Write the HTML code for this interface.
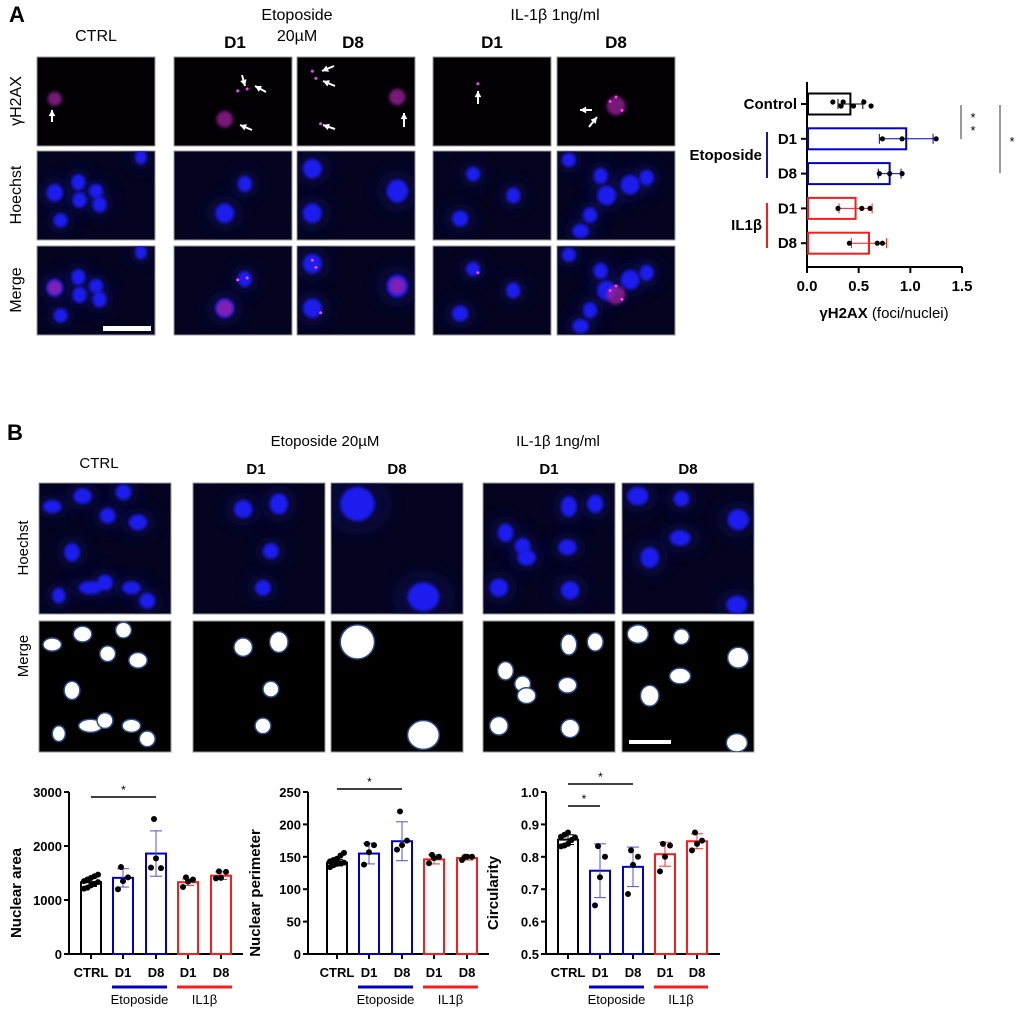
<!DOCTYPE html>
<html><head><meta charset="utf-8">
<style>
html,body{margin:0;padding:0;background:#fff;}
body{width:1020px;height:1011px;position:relative;overflow:hidden;font-family:"Liberation Sans",sans-serif;}
svg{position:absolute;left:0;top:0;}
text{font-family:"Liberation Sans",sans-serif;}
</style></head>
<body>
<svg id="fig" width="1020" height="1011" viewBox="0 0 1020 1011">
<defs>
<filter id="blur2" x="-50%" y="-50%" width="200%" height="200%"><feGaussianBlur stdDeviation="1.6"/></filter>
<filter id="blur6" x="-50%" y="-50%" width="200%" height="200%"><feGaussianBlur stdDeviation="7"/></filter>
</defs>
<g id="labels">
<text x="9" y="22" font-size="22" font-weight="bold">A</text>
<text x="96" y="41" font-size="16" text-anchor="middle">CTRL</text>
<text x="297" y="20" font-size="16" text-anchor="middle">Etoposide</text>
<text x="297" y="41" font-size="16" text-anchor="middle">20µM</text>
<text x="235" y="48" font-size="17" font-weight="bold" text-anchor="middle">D1</text>
<text x="353" y="48" font-size="17" font-weight="bold" text-anchor="middle">D8</text>
<text x="555" y="20" font-size="16" text-anchor="middle">IL-1β 1ng/ml</text>
<text x="492" y="48" font-size="17" font-weight="bold" text-anchor="middle">D1</text>
<text x="616" y="48" font-size="17" font-weight="bold" text-anchor="middle">D8</text>
<text transform="translate(21,101) rotate(-90)" font-size="16" text-anchor="middle">γH2AX</text>
<text transform="translate(21,195) rotate(-90)" font-size="16" text-anchor="middle">Hoechst</text>
<text transform="translate(21,290) rotate(-90)" font-size="16" text-anchor="middle">Merge</text>

<text x="7" y="440" font-size="22" font-weight="bold">B</text>
<text x="99" y="468" font-size="15" text-anchor="middle">CTRL</text>
<text x="325" y="446" font-size="15" text-anchor="middle">Etoposide 20µM</text>
<text x="256" y="474" font-size="15" font-weight="bold" text-anchor="middle">D1</text>
<text x="397" y="474" font-size="15" font-weight="bold" text-anchor="middle">D8</text>
<text x="558" y="446" font-size="15" text-anchor="middle">IL-1β 1ng/ml</text>
<text x="549" y="474" font-size="15" font-weight="bold" text-anchor="middle">D1</text>
<text x="688" y="474" font-size="15" font-weight="bold" text-anchor="middle">D8</text>
<text transform="translate(28,548) rotate(-90)" font-size="15" text-anchor="middle">Hoechst</text>
<text transform="translate(28,656) rotate(-90)" font-size="15" text-anchor="middle">Merge</text>
</g>
<g id="tiles"></g>
<g id="chartA"></g>
<g id="chartB1"></g>
<g id="chartB2"></g>
<g id="chartB3"></g>
</svg>
<script>
// ---------- chart A data ----------
const aCategories = ["Control","D1","D8","D1","D8"];
const aMeans = [0.42,0.96,0.80,0.47,0.60];
const aErr = [0.12,0.26,0.11,0.16,0.17];
const aPoints = [[0.25,0.33,0.35,0.45,0.55,0.62],[0.73,0.92,1.25],[0.70,0.80,0.92],[0.30,0.53,0.61],[0.41,0.68,0.73]];
const aTicks = [0.0,0.5,1.0,1.5];
// ---------- chart B data ----------
const bCategories = ["CTRL","D1","D8","D1","D8"];
const areaMeans = [1330,1410,1860,1330,1450];
const areaErr = [80,170,420,60,70];
const areaPoints = [[1210,1230,1270,1300,1330,1350,1380,1410,1440,1470],[1200,1350,1420,1610],[1600,1770,1590,2500],[1240,1340,1380,1420],[1400,1410,1520,1530]];
const areaTicks = [0,1000,2000,3000];
const perimMeans = [141,155,174,146,148];
const perimErr = [5,16,30,7,3];
const perimPoints = [[134,137,139,140,141,143,145,147,152,156],[138,157,168,170],[161,168,175,220],[140,148,150,153],[145,150,150,150]];
const perimTicks = [0,50,100,150,200,250];
const circMeans = [0.853,0.757,0.769,0.808,0.848];
const circErr = [0.015,0.083,0.061,0.037,0.023];
const circPoints = [[0.832,0.835,0.84,0.852,0.86,0.862,0.868,0.875],[0.65,0.737,0.80,0.833],[0.685,0.775,0.80,0.82],[0.755,0.80,0.835,0.84],[0.82,0.84,0.85,0.875]];
const circTicks = ["0.5","0.6","0.7","0.8","0.9","1.0"];
const colors = ["#000","#0000c8","#0000c8","#ff1a1a","#ff1a1a"];

const NS="http://www.w3.org/2000/svg";
function mk(parent,tag,attrs,txt){const e=document.createElementNS(NS,tag);for(const k in attrs)e.setAttribute(k,attrs[k]);if(txt!==undefined)e.textContent=txt;parent.appendChild(e);return e;}

// ---------- microscopy tiles ----------
const tiles=document.getElementById('tiles');
function tile(x,y,w,h,type,nuclei,foci,name){
  const g=mk(tiles,'g',{});
  
  
  const bg = type==='seg'?'#000':(type==='h2ax'?'#030005':'#040420');
  mk(g,'rect',{x:x,y:y,width:w,height:h,fill:bg,stroke:'#999','stroke-width':1});
  const cp='cp'+Math.round(x)+'_'+Math.round(y);
  const c=mk(g,'clipPath',{id:cp});mk(c,'rect',{x:x,y:y,width:w,height:h});
  const inner=mk(g,'g',{'clip-path':'url(#'+cp+')'});
  if(type==='hoechst'||type==='merge'){
    nuclei.forEach(n=>mk(inner,'ellipse',{cx:x+n[0]*w,cy:y+n[1]*h,rx:n[2]*w*2.0,ry:n[3]*h*1.8,fill:'#10105a',opacity:0.45,filter:'url(#blur6)'}));
    nuclei.forEach(n=>mk(inner,'ellipse',{cx:x+n[0]*w,cy:y+n[1]*h,rx:n[2]*w,ry:n[3]*h,fill:'#1a1aee',filter:'url(#blur2)'}));
  }
  if(type==='seg'){
    nuclei.forEach(n=>mk(inner,'ellipse',{cx:x+n[0]*w,cy:y+n[1]*h,rx:n[2]*w,ry:n[3]*h,fill:'#fff',stroke:'#2a4a8a','stroke-width':1.5}));
  }
  if(type==='h2ax'||type==='merge'){
    foci.forEach(f=>{
      if(f[2]>0.03) mk(inner,'circle',{cx:x+f[0]*w,cy:y+f[1]*h,r:f[2]*w,fill:'#a020a0',opacity:0.75,filter:'url(#blur2)'});
      else mk(inner,'circle',{cx:x+f[0]*w,cy:y+f[1]*h,r:1.5,fill:'#ff40ff'});
    });
  }
  return g;
}
function arrow(x1,y1,x2,y2){
  const g=mk(tiles,'g',{});
  
  
  mk(g,'line',{x1:x1,y1:y1,x2:x2,y2:y2,stroke:'#fff','stroke-width':2});
  const a=Math.atan2(y2-y1,x2-x1),L=7;
  mk(g,'polygon',{points:`${x2},${y2} ${x2-L*Math.cos(a-0.5)},${y2-L*Math.sin(a-0.5)} ${x2-L*Math.cos(a+0.5)},${y2-L*Math.sin(a+0.5)}`,fill:'#fff'});
}
// Panel A
const AX=[37,174,297,433,557], AY=[57,151,246], AW=118, AH=89;
const aNuc=[
 [[0.15,0.47,0.07,0.1],[0.35,0.35,0.06,0.09],[0.5,0.45,0.06,0.08],[0.36,0.55,0.06,0.09],[0.53,0.6,0.06,0.09],[0.2,0.78,0.06,0.08],[0.88,0.07,0.05,0.08]],
 [[0.6,0.37,0.06,0.09],[0.43,0.7,0.08,0.11]],
 [[0.13,0.2,0.08,0.11],[0.85,0.45,0.09,0.13],[0.13,0.7,0.08,0.11]],
 [[0.34,0.26,0.06,0.08],[0.68,0.5,0.06,0.09],[0.23,0.76,0.07,0.09]],
 [[0.1,0.1,0.06,0.08],[0.37,0.28,0.06,0.09],[0.62,0.38,0.08,0.11],[0.42,0.5,0.08,0.11],[0.76,0.3,0.06,0.09],[0.28,0.72,0.06,0.09],[0.2,0.9,0.07,0.08]]
];
const aFoci=[
 [[0.15,0.47,0.06]],
 [[0.43,0.7,0.07],[0.54,0.38,0.01],[0.62,0.36,0.01]],
 [[0.13,0.16,0.01],[0.16,0.24,0.01],[0.2,0.75,0.01],[0.85,0.45,0.07]],
 [[0.38,0.3,0.01]],
 [[0.5,0.55,0.08],[0.45,0.5,0.01],[0.55,0.6,0.01],[0.5,0.45,0.01]]
];
const colNamesA=['ctrl','eto-d1','eto-d8','il-d1','il-d8'];
for(let c=0;c<5;c++){
  tile(AX[c],AY[0],AW,AH,'h2ax',[],aFoci[c],'yh2ax-image-'+colNamesA[c]);
  tile(AX[c],AY[1],AW,AH,'hoechst',aNuc[c],[],'hoechst-image-'+colNamesA[c]);
  tile(AX[c],AY[2],AW,AH,'merge',aNuc[c],aFoci[c],'merge-image-'+colNamesA[c]);
}
arrow(52,122,52,110);arrow(242,75,245,86);arrow(266,92,255,86);arrow(252,130,240,125);
arrow(334,66,322,71);arrow(335,86,323,81);arrow(335,129,323,125);arrow(404,127,404,113);
arrow(478,104,478,91);arrow(592,110,580,110);arrow(589,127,597,117);
{const sb=mk(tiles,'rect',{x:103,y:326,width:48,height:5,fill:'#fff'});}
// Panel B
const BX=[39,193,331,483,622], BY=[483,621], BW=132, BH=131;
const bNuc=[
 [[0.1,0.18,0.07,0.05],[0.33,0.1,0.07,0.06],[0.64,0.07,0.06,0.06],[0.52,0.25,0.06,0.06],[0.75,0.3,0.07,0.06],[0.25,0.53,0.06,0.07],[0.39,0.8,0.09,0.05],[0.5,0.76,0.06,0.06],[0.7,0.8,0.07,0.05],[0.15,0.86,0.05,0.06],[0.82,0.9,0.06,0.06]],
 [[0.38,0.2,0.07,0.07],[0.65,0.16,0.07,0.08],[0.59,0.52,0.06,0.06],[0.53,0.8,0.06,0.06]],
 [[0.2,0.16,0.13,0.13],[0.7,0.87,0.12,0.11]],
 [[0.17,0.38,0.06,0.07],[0.3,0.48,0.06,0.06],[0.33,0.57,0.07,0.06],[0.65,0.18,0.06,0.08],[0.85,0.16,0.06,0.07],[0.64,0.49,0.07,0.06],[0.12,0.8,0.07,0.07],[0.66,0.82,0.07,0.07]],
 [[0.12,0.1,0.08,0.07],[0.45,0.12,0.06,0.06],[0.88,0.28,0.08,0.08],[0.44,0.42,0.08,0.06],[0.21,0.57,0.07,0.08],[0.87,0.93,0.08,0.07]]
];
for(let c=0;c<5;c++){
  tile(BX[c],BY[0],BW,BH,'hoechst',bNuc[c],[],'b-hoechst-image-'+colNamesA[c]);
  tile(BX[c],BY[1],BW,BH,'seg',bNuc[c],[],'b-merge-image-'+colNamesA[c]);
}
{const sb=mk(tiles,'rect',{x:629,y:740,width:42,height:4,fill:'#fff'});}

// ---------- chart A (horizontal bars) ----------
(function(){
  const g=document.getElementById('chartA');
  
  
  const x0=807, x1=962, yTop=82, yBot=267;
  const xs=v=>x0+(v-0)/(1.5-0)*(x1-x0);
  const ys=i=>104+i*34.8;
  mk(g,'line',{x1:x0,y1:yTop,x2:x0,y2:yBot,stroke:'#000','stroke-width':2});
  mk(g,'line',{x1:x0,y1:yBot,x2:x1,y2:yBot,stroke:'#000','stroke-width':2});
  aTicks.forEach(t=>{
    mk(g,'line',{x1:xs(t),y1:yBot,x2:xs(t),y2:yBot+6,stroke:'#000','stroke-width':2});
    const tl=mk(g,'text',{x:xs(t),y:291,'font-size':15,'font-weight':'bold','text-anchor':'middle'},t.toFixed(1));
    
    
  });
  const title=mk(g,'text',{x:884,y:318,'font-size':15,'text-anchor':'middle'});
  
  
  mk(title,'tspan',{'font-weight':'bold'},'γH2AX');
  mk(title,'tspan',{},' (foci/nuclei)');
  aCategories.forEach((c,i)=>{
    const y=ys(i), col=colors[i];
    mk(g,'line',{x1:x0-6,y1:y,x2:x0,y2:y,stroke:'#000','stroke-width':2});
    const lb=mk(g,'text',{x:x0-10,y:y+5,'font-size':15,'font-weight':'bold','text-anchor':'end'},c);
    
    
    const b=mk(g,'rect',{x:x0+1,y:y-10.5,width:xs(aMeans[i])-x0-1,height:21,fill:'none',stroke:col,'stroke-width':2});
    
    
    const lo=xs(aMeans[i]-aErr[i]), hi=xs(aMeans[i]+aErr[i]);
    mk(g,'line',{x1:lo,y1:y,x2:hi,y2:y,stroke:col,'stroke-width':1});
    mk(g,'line',{x1:lo,y1:y-5,x2:lo,y2:y+5,stroke:col,'stroke-width':1});
    mk(g,'line',{x1:hi,y1:y-5,x2:hi,y2:y+5,stroke:col,'stroke-width':1});
    aPoints[i].forEach((p,k)=>{
      const d=mk(g,'circle',{cx:xs(p),cy:y+(aPoints[i].length>4?(k%2?2:-2):0),r:2.6,fill:'#000'});
      
      
    });
  });
  mk(g,'line',{x1:767,y1:132,x2:767,y2:178,stroke:'#1a1a8c','stroke-width':2});
  mk(g,'line',{x1:767,y1:203,x2:767,y2:248,stroke:'#ff1a1a','stroke-width':2});
  const ge=mk(g,'text',{x:762,y:160,'font-size':15,'font-weight':'bold','text-anchor':'end'},'Etoposide');
  
  
  const gi=mk(g,'text',{x:762,y:230,'font-size':15,'font-weight':'bold','text-anchor':'end'},'IL1β');
  
  
  mk(g,'line',{x1:961,y1:105,x2:961,y2:139,stroke:'#555','stroke-width':1.2});
  mk(g,'line',{x1:1000,y1:105,x2:1000,y2:173,stroke:'#555','stroke-width':1.2});
  mk(g,'text',{x:973,y:122,'font-size':13,'text-anchor':'middle'},'*');
  mk(g,'text',{x:973,y:135,'font-size':13,'text-anchor':'middle'},'*');
  mk(g,'text',{x:1012,y:146,'font-size':13,'text-anchor':'middle'},'*');
})();

// ---------- chart B (vertical bars) ----------
function vChart(id,name,axX,xRight,centers,tickVals,tickLabels,yMin,yMax,means,errs,pts,title,sig){
  const g=document.getElementById(id);
  
  
  const yB=954, yT=792;
  const ys=v=>yB-(v-yMin)/(yMax-yMin)*(yB-yT);
  mk(g,'line',{x1:axX,y1:yT,x2:axX,y2:yB,stroke:'#000','stroke-width':2});
  mk(g,'line',{x1:axX,y1:yB,x2:xRight,y2:yB,stroke:'#000','stroke-width':2});
  tickVals.forEach((t,k)=>{
    mk(g,'line',{x1:axX-5,y1:ys(t),x2:axX,y2:ys(t),stroke:'#000','stroke-width':2});
    const tl=mk(g,'text',{x:axX-7,y:ys(t)+5,'font-size':13,'font-weight':'bold','text-anchor':'end'},tickLabels[k]);
    
    
  });
  const yt=mk(g,'text',{transform:`translate(${axX-48},${(yT+yB)/2+20}) rotate(-90)`,'font-size':15,'font-weight':'bold','text-anchor':'middle'},title);
  
  
  bCategories.forEach((c,i)=>{
    const cx=centers[i], col=colors[i];
    mk(g,'line',{x1:cx,y1:yB,x2:cx,y2:yB+5,stroke:'#000','stroke-width':2});
    const lb=mk(g,'text',{x:cx,y:977,'font-size':13,'font-weight':'bold','text-anchor':'middle'},c);
    
    
    const b=mk(g,'rect',{x:cx-10,y:ys(means[i]),width:20,height:yB-ys(means[i]),fill:'none',stroke:col,'stroke-width':2});
    
    
    const ec=i===0?'#000':(i<3?'#5050e0':'#ff3030');
    const lo=ys(means[i]-errs[i]), hi=ys(means[i]+errs[i]);
    mk(g,'line',{x1:cx,y1:lo,x2:cx,y2:hi,stroke:ec,'stroke-width':1});
    mk(g,'line',{x1:cx-6,y1:lo,x2:cx+6,y2:lo,stroke:ec,'stroke-width':1});
    mk(g,'line',{x1:cx-6,y1:hi,x2:cx+6,y2:hi,stroke:ec,'stroke-width':1});
    const n=pts[i].length;
    pts[i].forEach((p,k)=>{
      const off = n>4 ? ((k%5)-2)*3.5 : [-5,0,5,-2][k];
      const d=mk(g,'circle',{cx:cx+off,cy:ys(p),r:3,fill:'#000'});
      
      
    });
  });
  mk(g,'line',{x1:centers[1]-11,y1:987,x2:centers[2]+11,y2:987,stroke:'#0000c8','stroke-width':3});
  mk(g,'line',{x1:centers[3]-11,y1:987,x2:centers[4]+11,y2:987,stroke:'#ff1a1a','stroke-width':3});
  const t1=mk(g,'text',{x:(centers[1]+centers[2])/2,y:1004,'font-size':13,'text-anchor':'middle'},'Etoposide');
  
  
  const t2=mk(g,'text',{x:(centers[3]+centers[4])/2,y:1004,'font-size':13,'text-anchor':'middle'},'IL1β');
  
  
  sig.forEach(s=>{
    mk(g,'line',{x1:centers[s[0]],y1:s[2],x2:centers[s[1]],y2:s[2],stroke:'#000','stroke-width':1.5});
    mk(g,'text',{x:(centers[s[0]]+centers[s[1]])/2,y:s[2]-3,'font-size':12,'text-anchor':'middle'},'*');
  });
}
vChart('chartB1','nuclear-area-chart',69,243,[91,123,156,188,221],areaTicks,areaTicks.map(String),0,3000,areaMeans,areaErr,areaPoints,'Nuclear area',[[0,2,797]]);
vChart('chartB2','nuclear-perimeter-chart',308,489,[337,369,402,434,467],perimTicks,perimTicks.map(String),0,250,perimMeans,perimErr,perimPoints,'Nuclear perimeter',[[0,2,789]]);
vChart('chartB3','circularity-chart',546,720,[568,600,633,665,697],circTicks.map(Number),circTicks,0.5,1.0,circMeans,circErr,circPoints,'Circularity',[[0,2,784],[0,1,806]]);
</script>
</body></html>
